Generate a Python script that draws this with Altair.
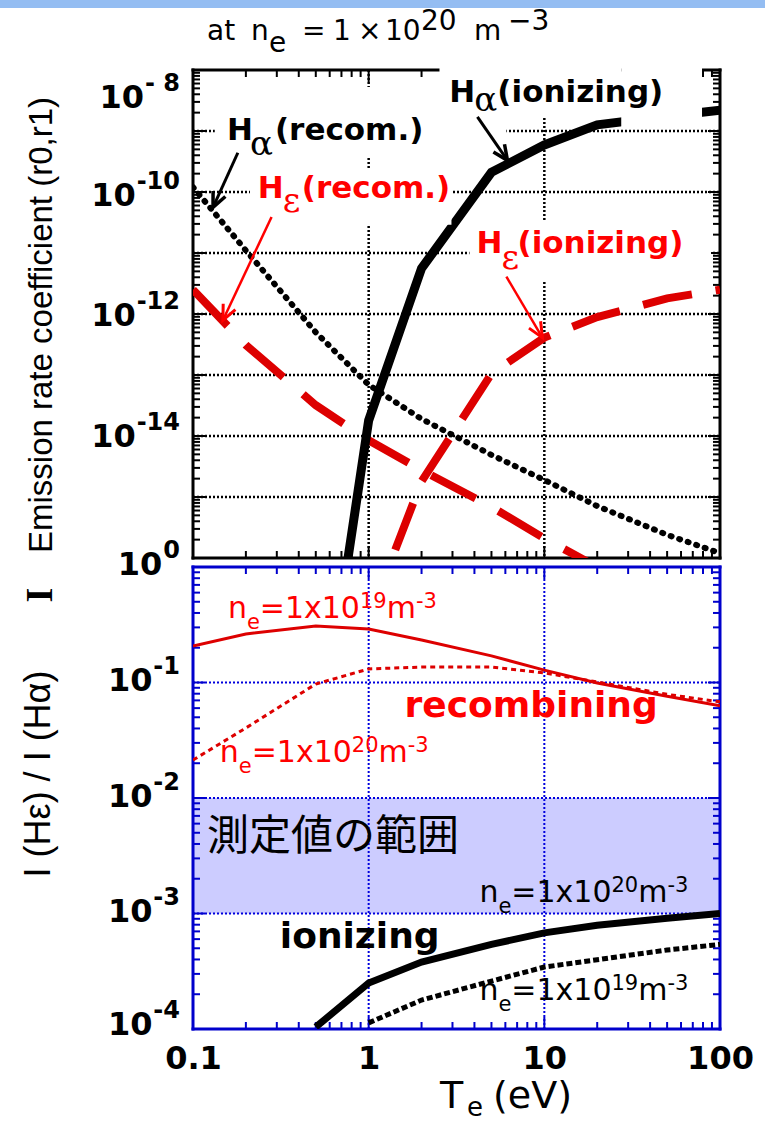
import math

import altair as alt
import pandas as pd

# ------------------------------------------------------------------ data
TE = [0.1, 0.2, 0.5, 1, 2, 5, 10, 20, 50, 100]

# emission rate coefficients (r0, r1) at n_e = 1e20 m^-3
HA_RECOM = [1.2e-10, 1.1e-11, 5.0e-13, 6.9e-14, 1.9e-14, 4.9e-15, 1.9e-15, 7.1e-16, 2.4e-16, 1.2e-16]
HE_RECOM = [2.5e-12, 3.1e-13, 3.2e-14, 8.5e-15, 2.75e-15, 6.9e-16, 2.1e-16, 7.1e-17, 1.7e-17, 5.6e-18]
TE_HA_ION = [0.5, 1, 2, 5, 10, 20, 50, 100]
HA_ION = [3e-20, 1.8e-14, 5.6e-12, 2.1e-10, 5.9e-10, 1.26e-9, 1.74e-9, 2.2e-9]
TE_HE_ION = [1, 2, 5, 10, 20, 50, 100]
HE_ION = [1e-17, 1.8e-15, 1.05e-13, 4.1e-13, 8.9e-13, 1.8e-12, 2.5e-12]

# line ratio I(He) / I(Ha)
RATIO_REC_19 = [0.207, 0.263, 0.308, 0.290, 0.233, 0.170, 0.128, 0.099, 0.076, 0.063]
RATIO_REC_20 = [0.0213, 0.0404, 0.097, 0.131, 0.136, 0.136, 0.121, 0.101, 0.079, 0.068]
TE_ION_20 = [0.5, 1, 2, 5, 10, 20, 50, 100]
RATIO_ION_20 = [1.04e-4, 2.5e-4, 3.8e-4, 5.4e-4, 6.8e-4, 7.9e-4, 9.1e-4, 1.0e-3]
TE_ION_19 = [1, 2, 5, 10, 20, 50, 100]
RATIO_ION_19 = [1.13e-4, 1.78e-4, 2.6e-4, 3.44e-4, 3.98e-4, 4.83e-4, 5.4e-4]

MEASURED_RANGE = [1e-3, 1e-2]

# axis decorations
X_DOMAIN = [0.1, 100]
TOP_DOMAIN = [1e-16, 1e-8]
BOT_DOMAIN = [1e-4, 1]
X_MAJOR = [0.1, 1, 10, 100]
X_MINOR = [m * 10.0 ** d for d in (-1, 0, 1) for m in range(2, 10)]
X_GRID = [1, 10]
TOP_MAJOR = [10.0 ** d for d in range(-16, -7)]
TOP_MINOR = [m * 10.0 ** d for d in range(-16, -8) for m in range(2, 10)]
TOP_GRID = [10.0 ** d for d in range(-15, -8)]
BOT_MAJOR = [10.0 ** d for d in range(-4, 1)]
BOT_MINOR = [m * 10.0 ** d for d in range(-4, 0) for m in range(2, 10)]
BOT_GRID = [1e-3, 1e-2, 1e-1]

TOP_LABEL_VALUES = [1e-8, 1e-10, 1e-12, 1e-14, 1e-16]
TOP_LABEL_EXPS = ["- 8", "-10", "-12", "-14", "0"]
BOT_LABEL_VALUES = [1e-1, 1e-2, 1e-3, 1e-4]
BOT_LABEL_EXPS = ["-1", "-2", "-3", "-4"]

# annotation arrows (tail -> head), in data units
ARROWS_BLACK = {"ax": [0.18, 4.16], "ay": [4.4e-10, 1.7e-9],
                "bx": [0.13, 6.17], "by": [5.6e-11, 3.3e-10]}
ARROWS_RED = {"ax": [0.28, 6.08], "ay": [3.9e-11, 4.1e-12],
              "bx": [0.148, 9.75], "by": [7.9e-13, 4.1e-13]}

# white backgrounds behind the upper-panel labels
LABEL_BOXES = {"x1": [0.133, 0.211, 2.53, 27.4, 3.75],
               "x2": [6.08, 2.96, 27.4, 79.0, 88.9],
               "y1": [5.26e-9, 2.47e-10, 1.57e-8, 1.57e-8, 3.22e-11],
               "y2": [3.6e-10, 2.9e-11, 1.76e-9, 1.12e-9, 3.35e-12]}

# ------------------------------------------------------------------ style
W, H_TOP, H_BOT = 527, 488, 462
SANS = "DejaVu Sans"
NARROW = "Liberation Sans"
SERIF = "DejaVu Serif"
CJK = "Noto Sans CJK JP"
RED = "#ff0000"
CURVE_RED = "#dd0000"
BLUE = "#0000cc"

BOT_XAXIS = alt.Axis(values=X_MAJOR,
                     labelExpr="datum.value < 1 ? '0.1' : format(datum.value, 'd')",
                     labelFont=SANS, labelFontWeight="bold", labelFontSize=32,
                     labelColor="black", labelPadding=14, tickSize=0,
                     domain=False, ticks=False, grid=False, title=None,
                     labelFlush=False, labelOverlap=False, labelBound=False)

# DejaVu Sans advance widths (em) for laying out composite labels
DJV = {"n": .634, "e": .615, "=": .838, "1": .636, "x": .592, "0": .636,
       "9": .636, "2": .636, "m": .974, "-": .361, "3": .636}
DJB = {"-": .411, " ": .348, **{str(d): .696 for d in range(10)}}


def one_row(**cols):
    return pd.DataFrame({k: [v] for k, v in cols.items()})


class Panel:
    def __init__(self, h, ydom, xaxis=None):
        self.h, self.ydom, self.xaxis = h, ydom, xaxis
        self.layers = []

    def x(self, f):
        return alt.X(f"{f}:Q", scale=alt.Scale(type="log", domain=X_DOMAIN, nice=False),
                     axis=self.xaxis)

    def y(self, f):
        return alt.Y(f"{f}:Q", scale=alt.Scale(type="log", domain=self.ydom, nice=False),
                     axis=None)

    def add(self, layer):
        self.layers.append(layer)

    def chart(self):
        return alt.layer(*self.layers).properties(width=W, height=self.h)


def add_grid(p, xs, ys, color, width):
    m = alt.Chart(pd.DataFrame({"t": xs})).mark_rule(color=color, strokeWidth=width, strokeDash=[2, 2])
    p.add(m.encode(x=p.x("t"), y=alt.value(0), y2=alt.value(p.h)))
    m = alt.Chart(pd.DataFrame({"t": ys})).mark_rule(color=color, strokeWidth=width, strokeDash=[2, 2])
    p.add(m.encode(y=p.y("t"), x=alt.value(0), x2=alt.value(W)))


def add_frame(p, color, width):
    m = alt.Chart(one_row(k=0)).mark_rule(color=color, strokeWidth=width, strokeCap="square")
    p.add(m.encode(x=alt.value(0), x2=alt.value(W), y=alt.value(0)))
    p.add(m.encode(x=alt.value(0), x2=alt.value(W), y=alt.value(p.h)))
    p.add(m.encode(x=alt.value(0), y=alt.value(0), y2=alt.value(p.h)))
    p.add(m.encode(x=alt.value(W), y=alt.value(0), y2=alt.value(p.h)))


def add_ticks(p, ymajor, yminor, color):
    for vals, ln in ((X_MINOR, 7), (X_MAJOR, 12)):
        m = alt.Chart(pd.DataFrame({"t": vals})).mark_rule(color=color, strokeWidth=2)
        p.add(m.encode(x=p.x("t"), y=alt.value(p.h), y2=alt.value(p.h - ln)))
        p.add(m.encode(x=p.x("t"), y=alt.value(0), y2=alt.value(ln)))
    for vals, ln in ((yminor, 7), (ymajor, 12)):
        m = alt.Chart(pd.DataFrame({"t": vals})).mark_rule(color=color, strokeWidth=2)
        p.add(m.encode(y=p.y("t"), x=alt.value(0), x2=alt.value(ln)))
        p.add(m.encode(y=p.y("t"), x=alt.value(W), x2=alt.value(W - ln)))


def add_curve(p, te, vals, color, width, dash=None, cap="butt"):
    kw = dict(color=color, strokeWidth=width, clip=True, strokeCap=cap)
    if dash:
        kw["strokeDash"] = dash
    df = pd.DataFrame({"te": te, "v": vals})
    p.add(alt.Chart(df).mark_line(**kw).encode(x=p.x("te"), y=p.y("v")))


def add_rects(p, boxes, color):
    df = pd.DataFrame(boxes)
    p.add(alt.Chart(df).mark_rect(color=color).encode(
        x=p.x("x1"), x2=alt.X2("x2"), y=p.y("y1"), y2=alt.Y2("y2")))


def add_arrows(p, arrows, color, width):
    df = pd.DataFrame(arrows)
    kx, ky = W / 3.0, p.h / 8.0
    df["ang"] = [
        math.degrees(math.atan2((math.log10(bx) - math.log10(ax)) * kx,
                                (math.log10(by) - math.log10(ay)) * ky)) % 360
        for ax, ay, bx, by in zip(df.ax, df.ay, df.bx, df.by)
    ]
    base = alt.Chart(df)
    p.add(base.mark_rule(color=color, strokeWidth=width).encode(
        x=p.x("ax"), y=p.y("ay"), x2=alt.X2("bx"), y2=alt.Y2("by")))
    p.add(base.mark_point(shape="M-0.45,1L0,0L0.45,1", filled=False, size=900,
                          strokeWidth=width + 0.5, color=color, opacity=1).encode(
        x=p.x("bx"), y=p.y("by"), angle=alt.Angle("ang:Q", scale=None)))


def add_rich(p, x, y, pieces, color, baseline="alphabetic"):
    row = one_row(x=x, y=y)
    for text, dx, dy, size, font, weight in pieces:
        p.add(alt.Chart(row).mark_text(
            text=text, dx=dx, dy=dy, fontSize=size, font=font, fontWeight=weight,
            color=color, align="left", baseline=baseline).encode(x=p.x("x"), y=p.y("y")))


def add_px_text(p, px, py, text, **kw):
    p.add(alt.Chart(one_row(k=0)).mark_text(text=text, **kw).encode(
        x=alt.value(px), y=alt.value(py)))


def add_ylabels(p, values, exps, dys):
    for v, e, dy in zip(values, exps, dys):
        row = one_row(y=v)
        w = sum(DJB[c] for c in e) * 24
        common = dict(font=SANS, fontWeight="bold", color="black",
                      align="right", baseline="alphabetic")
        p.add(alt.Chart(row).mark_text(text="10", dx=-14 - w, dy=dy, fontSize=32, **common)
              .encode(x=alt.value(0), y=p.y("y")))
        p.add(alt.Chart(row).mark_text(text=e, dx=-13, dy=dy - 17, fontSize=24, **common)
              .encode(x=alt.value(0), y=p.y("y")))


def label_h(sub, tail, sub_dx, tail_dx, sub_dy):
    return [("H", 0, 0, 31, SANS, "bold"),
            (sub, sub_dx, sub_dy, 34, SERIF, "normal"),
            (tail, tail_dx, 0, 31, SANS, "bold")]


def ne_pieces(exp):
    big, small = 30, 21
    parts = [("n", big, 0), ("e", small, 11), ("=1x10", big, 0),
             (exp, small, -10), ("m", big, 0), ("-3", small, -10)]
    out, dx = [], 0.0
    for t, s, dy in parts:
        out.append((t, round(dx, 1), dy, s, SANS, "normal"))
        dx += sum(DJV[c] for c in t) * s
    return out


# ------------------------------------------------------------------ upper panel
top = Panel(H_TOP, TOP_DOMAIN)
add_grid(top, X_GRID, TOP_GRID, "black", 2.5)
add_frame(top, "black", 3)
add_ticks(top, TOP_MAJOR, TOP_MINOR, "black")
add_curve(top, TE, HA_RECOM, "black", 6, [1, 8], cap="round")
add_curve(top, TE, HE_RECOM, CURVE_RED, 8, [50, 26])
add_curve(top, TE_HA_ION, HA_ION, "black", 9)
add_curve(top, TE_HE_ION, HE_ION, CURVE_RED, 8, [50, 24])
add_rects(top, LABEL_BOXES, "white")
add_arrows(top, ARROWS_BLACK, "black", 3)
add_arrows(top, ARROWS_RED, RED, 2.5)
add_rich(top, 0.156, 7.1e-10, label_h("α", "(recom.)", 23, 48, 15), "black")
add_rich(top, 0.234, 7.98e-11, label_h("ε", "(recom.)", 25, 44, 14), RED)
add_rich(top, 2.88, 2.99e-9, label_h("α", "(ionizing)", 25, 48, 9), "black")
add_rich(top, 4.11, 1.0e-11, label_h("ε", "(ionizing)", 25, 41, 16), RED)
add_ylabels(top, TOP_LABEL_VALUES, TOP_LABEL_EXPS, [38, 14, 12, 11, 17])
add_px_text(top, -141, 255, "Emission rate coefficient (r0,r1)", angle=270, align="center",
            baseline="alphabetic", font=NARROW, fontSize=33, color="black")

# heading above the upper panel
for text, dx, dy in [("at", 0, 0), ("n", 44, 0), ("e", 62, 12), ("=", 95, 0), ("1", 126, 0),
                     ("×", 151, 0), ("10", 178, 0), ("20", 214, -10), ("m", 267, 0),
                     ("−3", 301, -10)]:
    add_px_text(top, 14 + dx, -30 + dy, text, align="left", baseline="alphabetic",
                font=SANS, fontSize=28, color="black")

# slide header strip
top.add(alt.Chart(one_row(k=0)).mark_rect(color="#94bdf2").encode(
    x=alt.value(-193), x2=alt.value(W + 45), y=alt.value(-70), y2=alt.value(-62)))

# ------------------------------------------------------------------ lower panel
bot = Panel(H_BOT, BOT_DOMAIN, BOT_XAXIS)
add_rects(bot, {"x1": [X_DOMAIN[0]], "x2": [X_DOMAIN[1]],
                "y1": [MEASURED_RANGE[0]], "y2": [MEASURED_RANGE[1]]}, "#ccccff")
add_grid(bot, X_GRID, BOT_GRID, "#0000dd", 2)
add_frame(bot, BLUE, 3)
add_ticks(bot, BOT_MAJOR, BOT_MINOR, BLUE)
add_curve(bot, TE, RATIO_REC_19, CURVE_RED, 3)
add_curve(bot, TE, RATIO_REC_20, CURVE_RED, 3, [5, 4])
add_curve(bot, TE_ION_20, RATIO_ION_20, "black", 7)
add_curve(bot, TE_ION_19, RATIO_ION_19, "black", 5, [6, 3])

add_rich(bot, 0.158, 0.362, ne_pieces("19"), RED)
add_rich(bot, 0.142, 0.0205, ne_pieces("20"), RED)
add_rich(bot, 4.27, 1.26e-3, ne_pieces("20"), "black")
add_rich(bot, 4.27, 1.78e-4, ne_pieces("19"), "black")
add_rich(bot, 1.60, 0.0503, [("recombining", 0, 0, 36, SANS, "bold")], RED)
add_rich(bot, 0.312, 5.03e-4, [("ionizing", 0, 0, 36, SANS, "bold")], "black")
add_rich(bot, 0.120, 4.6e-3, [("測定値の範囲", 0, 0, 42, CJK, "normal")], "black",
         baseline="middle")

add_ylabels(bot, BOT_LABEL_VALUES, BOT_LABEL_EXPS, [8, 9, 8, 6])
add_px_text(bot, -143, 207, "I (Hε) / I (Hα)", angle=270, align="center",
            baseline="alphabetic", font=NARROW, fontSize=36, color="black")
add_px_text(bot, -152, 28, "I", angle=270, align="center", baseline="middle",
            font="Liberation Serif", fontWeight="bold", fontSize=38, color="black")
add_px_text(bot, 247, 541, "T", align="left", baseline="alphabetic",
            font=SANS, fontSize=38, color="black")
add_px_text(bot, 274, 549, "e", align="left", baseline="alphabetic",
            font=SANS, fontSize=26, color="black")
add_px_text(bot, 300, 541, "(eV)", align="left", baseline="alphabetic",
            font=SANS, fontSize=38, color="black")

chart = (
    alt.vconcat(top.chart(), bot.chart(), spacing=9, bounds="flush")
    .properties(padding=0)
    .configure_view(strokeWidth=0)
)

chart.save("out.html", embed_options={"renderer": "svg", "actions": False})
